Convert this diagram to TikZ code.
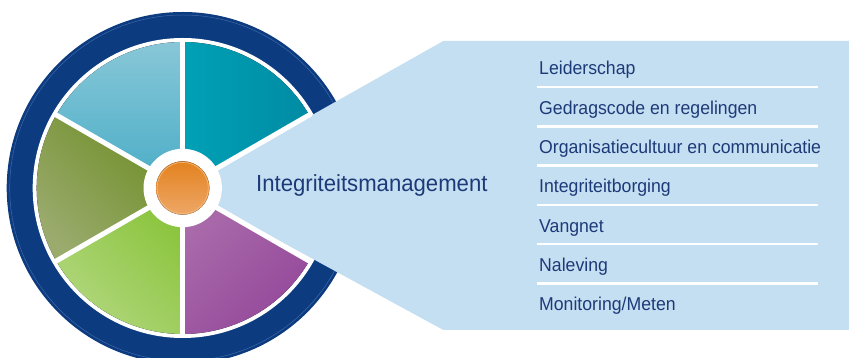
\documentclass[tikz,border=0pt]{standalone}
\usepackage{fontspec}
\setmainfont{Liberation Sans}[FakeStretch=0.95]
\usepackage{tikz}
\usetikzlibrary{positioning}

\definecolor{ringblue}{HTML}{0C3B80}
\definecolor{ringline}{HTML}{3F68A8}
\definecolor{panelblue}{HTML}{C5DFF2}
\definecolor{textblue}{HTML}{1D3A78}
\definecolor{tealA}{HTML}{00A1B6}
\definecolor{tealB}{HTML}{008BA3}
\definecolor{skyA}{HTML}{88C7D8}
\definecolor{skyB}{HTML}{49ADC6}
\definecolor{oliveA}{HTML}{6E8E28}
\definecolor{oliveB}{HTML}{9BAB6E}
\definecolor{limeA}{HTML}{8AC43C}
\definecolor{limeB}{HTML}{B1D77D}
\definecolor{plumA}{HTML}{AA6CAB}
\definecolor{plumB}{HTML}{94489A}
\definecolor{hubA}{HTML}{E3821F}
\definecolor{hubB}{HTML}{EEA767}
\definecolor{hubline}{HTML}{F3BA80}

\begin{document}
\begin{tikzpicture}[x=1pt, y=1pt, node distance=21.5pt]
      \tikzstyle{item} = [inner sep=0pt, text height=13.4pt, text depth=4pt, text=textblue, font=\fontsize{18.6}{22}\selectfont]
      \tikzstyle{topic} = [inner sep=0pt, text=textblue, font=\fontsize{23.3}{28}\selectfont]
      \tikzstyle{spoke} = [draw=white, line width=5pt]
      \tikzstyle{rule} = [draw=white, line width=2.5pt]

      \useasboundingbox (0,0) rectangle (849,358);
      \clip (0,0) rectangle (849,358);

      \coordinate (hub) at (182.7,170);

      % wheel
      \fill [ringblue] (hub) circle (176pt);
      \draw [ringline, line width=0.5pt] (hub) circle (173pt);
      \fill [white] (hub) circle (150pt);

      \fill [left color=tealA, right color=tealB] (hub) -- ++(30:146pt) arc (30:90:146pt) -- cycle;
      \fill [top color=skyA, bottom color=skyB] (hub) -- ++(90:146pt) arc (90:150:146pt) -- cycle;
      \fill [top color=oliveA, bottom color=oliveB, shading angle=-45] (hub) -- ++(150:146pt) arc (150:210:146pt) -- cycle;
      \fill [top color=limeA, bottom color=limeB, shading angle=-45] (hub) -- ++(210:146pt) arc (210:270:146pt) -- cycle;
      \fill [top color=plumA, bottom color=plumB, shading angle=45] (hub) -- ++(270:146pt) arc (270:330:146pt) -- cycle;

      % callout
      \fill [panelblue] (hub) -- (443.3,317) -- (860,317) -- (860,28) -- (443.3,28) -- cycle;

      \foreach \a in {30,90,150,210,270,330}
        \draw [spoke] (hub) -- ++(\a:148pt);

      \fill [white] (hub) circle (39.2pt);
      \fill [top color=hubA, bottom color=hubB] (hub) circle (26.7pt);
      \draw [hubline, line width=0.6pt] (hub) circle (25.6pt);

      \node (theme) [topic, anchor=base west] at (256,166.3) {Integriteitsmanagement};

      \node (lead) [item, anchor=base west] at (539,283) {Leiderschap};
      \node (code) [item, below=of lead.south west, anchor=north west] {Gedragscode en regelingen};
      \node (culture) [item, below=of code.south west, anchor=north west] {Organisatiecultuur en communicatie};
      \node (assurance) [item, below=of culture.south west, anchor=north west] {Integriteitborging};
      \node (safety) [item, below=of assurance.south west, anchor=north west] {Vangnet};
      \node (compliance) [item, below=of safety.south west, anchor=north west] {Naleving};
      \node (monitor) [item, below=of compliance.south west, anchor=north west] {Monitoring/Meten};

      \foreach \n in {lead,code,culture,assurance,safety,compliance}
        \draw [rule] ([shift={(-2pt,-12pt)}]\n.base west) -- ++(281pt,0);

    \end{tikzpicture}
\end{document}
